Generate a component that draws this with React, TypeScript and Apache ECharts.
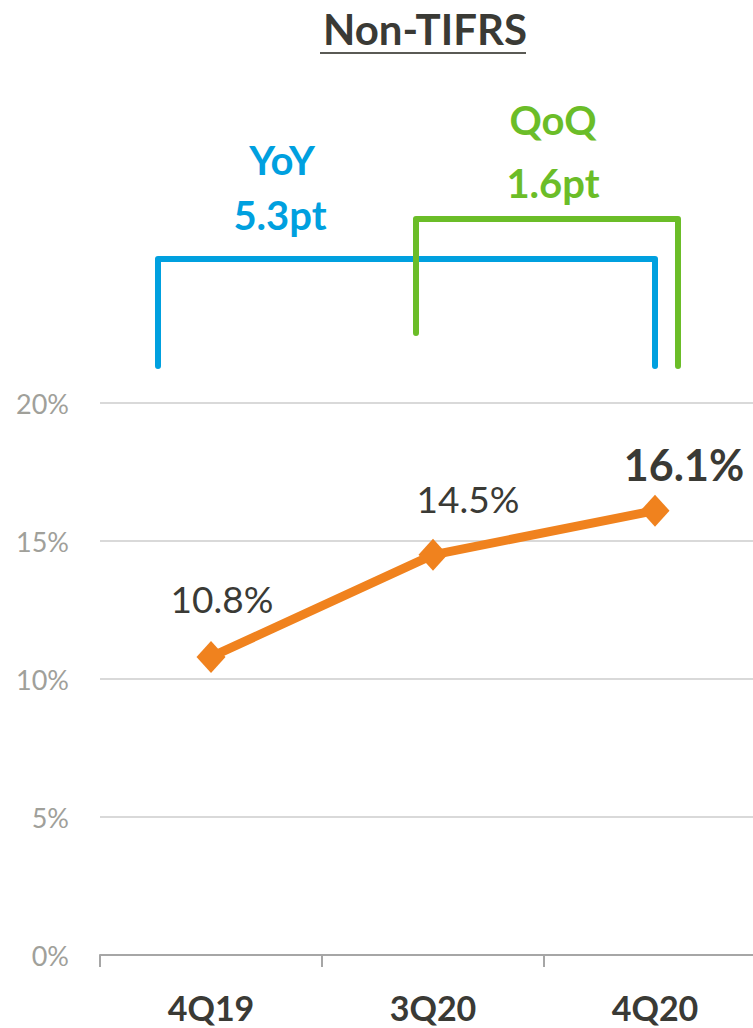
import React, { useEffect, useRef } from "react";
import * as echarts from "echarts";

const categories = ["4Q19", "3Q20", "4Q20"];
const values = [10.8, 14.5, 16.1];
const yTicks = { min: 0, max: 20, interval: 5 };
const titleText = "Non-TIFRS";
const yoyLabel = ["YoY", "5.3pt"];
const qoqLabel = ["QoQ", "1.6pt"];

const FONT = "Lato, 'Open Sans', sans-serif";
const DARK = "#3a3a35";
const BLUE = "#00a0df";
const GREEN = "#6bbd28";
const ORANGE = "#f0821e";

export default function App() {
  const ref = useRef<HTMLDivElement>(null);
  useEffect(() => {
    if (!ref.current) return;
    const chart = echarts.init(ref.current, null, { renderer: "svg" });
    const labelCfg = [
      { offset: [11, -19], fontSize: 37, fontWeight: "normal" },
      { offset: [35, -17], fontSize: 37, fontWeight: "normal" },
      { offset: [29, -4], fontSize: 43, fontWeight: "bold" },
    ];
    chart.setOption({
      animation: false,
      grid: { left: 100, width: 666, top: 403, height: 552 },
      xAxis: {
        type: "category",
        data: categories,
        boundaryGap: true,
        axisLine: { lineStyle: { color: "#a6a6a6", width: 2 } },
        axisTick: { show: true, length: 12, lineStyle: { color: "#a6a6a6", width: 2 } },
        axisLabel: {
          color: DARK,
          fontFamily: FONT,
          fontSize: 34,
          fontWeight: "bold",
          margin: 35,
        },
      },
      yAxis: {
        type: "value",
        min: yTicks.min,
        max: yTicks.max,
        interval: yTicks.interval,
        axisLine: { show: false },
        axisTick: { show: false },
        axisLabel: {
          formatter: "{value}%",
          color: "#a0a09a",
          fontFamily: FONT,
          fontSize: 27,
          margin: 31,
        },
        splitLine: { lineStyle: { color: "#d9d9d9", width: 2 } },
      },
      series: [
        {
          type: "line",
          data: values.map((v, i) => ({
            value: v,
            label: {
              show: true,
              position: "top",
              offset: labelCfg[i].offset,
              fontSize: labelCfg[i].fontSize,
              fontWeight: labelCfg[i].fontWeight,
            },
          })),
          lineStyle: { color: ORANGE, width: 9 },
          itemStyle: { color: ORANGE },
          symbol: "diamond",
          symbolSize: [29, 32],
          label: {
            show: true,
            formatter: (p: any) => p.value.toFixed(1) + "%",
            color: DARK,
            fontFamily: FONT,
          },
        },
      ],
    });

    const x0 = chart.convertToPixel({ xAxisIndex: 0 }, categories[0]) as number;
    const x1 = chart.convertToPixel({ xAxisIndex: 0 }, categories[1]) as number;
    const x2 = chart.convertToPixel({ xAxisIndex: 0 }, categories[2]) as number;

    const blueL = x0 - 53;
    const blueR = x2;
    const greenL = x1 - 17;
    const greenR = x2 + 23;

    const txt = (x: number, y: number, text: string, fill: string, size: number) => ({
      type: "text",
      x,
      y,
      style: {
        text,
        font: `bold ${size}px ${FONT}`,
        fill,
        textAlign: "center",
        textVerticalAlign: "middle",
      },
    });

    chart.setOption({
      graphic: [
        txt(425, 29, titleText, DARK, 42),
        {
          type: "line",
          shape: { x1: 320, y1: 53, x2: 526, y2: 53 },
          style: { stroke: "#5a5a55", lineWidth: 2 },
        },
        {
          type: "polyline",
          shape: {
            points: [
              [blueL, 366],
              [blueL, 259],
              [blueR, 259],
              [blueR, 366],
            ],
          },
          style: { stroke: BLUE, lineWidth: 6, fill: "none", lineJoin: "round", lineCap: "round" },
        },
        {
          type: "polyline",
          shape: {
            points: [
              [greenL, 333],
              [greenL, 219],
              [greenR, 219],
              [greenR, 366],
            ],
          },
          style: { stroke: GREEN, lineWidth: 6, fill: "none", lineJoin: "round", lineCap: "round" },
        },
        txt(282, 160, yoyLabel[0], BLUE, 40),
        txt(280, 215, yoyLabel[1], BLUE, 40),
        txt(553, 120, qoqLabel[0], GREEN, 40),
        txt(553, 183, qoqLabel[1], GREEN, 40),
      ],
    });
    return () => chart.dispose();
  }, []);
  return (
    <div style={{ position: "absolute", left: 0, top: 0, width: 753, height: 1028, overflow: "hidden", background: "#fff" }}>
      <div ref={ref} style={{ width: 790, height: 1028 }} />
    </div>
  );
}
